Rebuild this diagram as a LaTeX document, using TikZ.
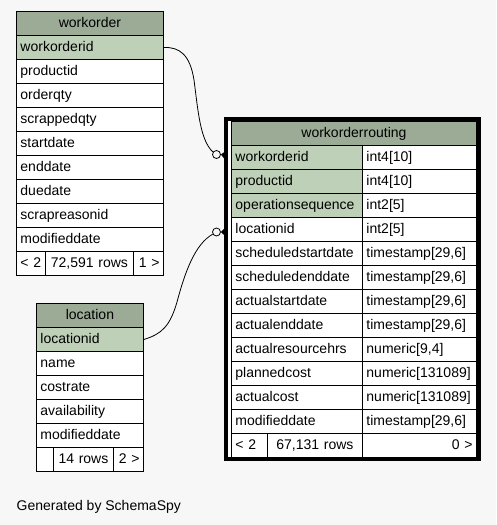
\documentclass[tikz,border=0pt]{standalone}
\usepackage{fontspec}
\setmainfont{Liberation Sans}
\usetikzlibrary{calc}
\definecolor{bg}{HTML}{F7F7F7}
\definecolor{hdr}{HTML}{9BAB96}
\definecolor{keyc}{HTML}{BED1B8}
\hyphenpenalty=10000
\exhyphenpenalty=10000
\begin{document}
\begin{tikzpicture}[x=1pt,y=-1pt,
  cell/.style={draw=black, line width=0.9pt, fill=white, anchor=north west,
    minimum height=24pt, inner xsep=4pt, inner ysep=0pt,
    text height=10.5pt, text depth=3pt,
    font=\fontsize{14}{16}\selectfont,
    align=left},
  hdrcell/.style={cell, fill=hdr, align=center},
  keycell/.style={cell, fill=keyc},
  ccell/.style={cell, align=center},
  rcell/.style={cell, align=right},
  odot/.style={circle, draw=black, line width=0.8pt, fill=bg, minimum size=8pt, inner sep=0pt},
  edge/.style={draw=black, line width=0.8pt},
  frame/.style={draw=black, line width=4pt, fill=white}
]
\fill[bg] (0,0) rectangle (496,525);
\useasboundingbox (0,0) rectangle (496,525);

% workorder
\node[hdrcell, text width=139pt] (wo) at (16,11) {workorder};
\node[keycell, text width=139pt] (wo-workorderid) at (16,35) {workorderid};
\node[cell, text width=139pt] (wo-productid) at (16,59) {productid};
\node[cell, text width=139pt] (wo-orderqty) at (16,83) {orderqty};
\node[cell, text width=139pt] (wo-scrappedqty) at (16,107) {scrappedqty};
\node[cell, text width=139pt] (wo-startdate) at (16,131) {startdate};
\node[cell, text width=139pt] (wo-enddate) at (16,155) {enddate};
\node[cell, text width=139pt] (wo-duedate) at (16,179) {duedate};
\node[cell, text width=139pt] (wo-scrapreasonid) at (16,203) {scrapreasonid};
\node[cell, text width=139pt] (wo-modifieddate) at (16,227) {modifieddate};
\node[cell, text width=21pt] (wo-f1) at (16,251) {<~2};
\node[ccell, text width=80pt] (wo-f2) at (45,251) {72,591~rows};
\node[rcell, text width=22pt] (wo-f3) at (133,251) {1~>};

% workorderrouting
\path[frame] (226,119) rectangle (479,459);
\node[hdrcell, text width=237pt] (wor) at (231,121) {workorderrouting};
\node[keycell, text width=123pt] (wor-workorderid) at (231,145) {workorderid};
\node[cell, text width=106pt] (wor-workorderid-t) at (362,145) {int4[10]};
\node[keycell, text width=123pt] (wor-productid) at (231,169) {productid};
\node[cell, text width=106pt] (wor-productid-t) at (362,169) {int4[10]};
\node[keycell, text width=123pt] (wor-operationsequence) at (231,193) {operationsequence};
\node[cell, text width=106pt] (wor-operationsequence-t) at (362,193) {int2[5]};
\node[cell, text width=123pt] (wor-locationid) at (231,217) {locationid};
\node[cell, text width=106pt] (wor-locationid-t) at (362,217) {int2[5]};
\node[cell, text width=123pt] (wor-ssd) at (231,241) {scheduledstartdate};
\node[cell, text width=106pt] (wor-ssd-t) at (362,241) {timestamp[29,6]};
\node[cell, text width=123pt] (wor-sed) at (231,265) {scheduledenddate};
\node[cell, text width=106pt] (wor-sed-t) at (362,265) {timestamp[29,6]};
\node[cell, text width=123pt] (wor-asd) at (231,289) {actualstartdate};
\node[cell, text width=106pt] (wor-asd-t) at (362,289) {timestamp[29,6]};
\node[cell, text width=123pt] (wor-aed) at (231,313) {actualenddate};
\node[cell, text width=106pt] (wor-aed-t) at (362,313) {timestamp[29,6]};
\node[cell, text width=123pt] (wor-arh) at (231,337) {actualresourcehrs};
\node[cell, text width=106pt] (wor-arh-t) at (362,337) {numeric[9,4]};
\node[cell, text width=123pt] (wor-pc) at (231,361) {plannedcost};
\node[cell, text width=106pt] (wor-pc-t) at (362,361) {numeric[131089]};
\node[cell, text width=123pt] (wor-ac) at (231,385) {actualcost};
\node[cell, text width=106pt] (wor-ac-t) at (362,385) {numeric[131089]};
\node[cell, text width=123pt] (wor-md) at (231,409) {modifieddate};
\node[cell, text width=106pt] (wor-md-t) at (362,409) {timestamp[29,6]};
\node[cell, text width=28pt] (wor-f1) at (231,433) {<~2};
\node[ccell, text width=87pt] (wor-f2) at (267,433) {67,131~rows};
\node[rcell, text width=106pt] (wor-f3) at (362,433) {0~>};

% location
\node[hdrcell, text width=99pt] (loc) at (36,303) {location};
\node[keycell, text width=99pt] (loc-locationid) at (36,327) {locationid};
\node[cell, text width=99pt] (loc-name) at (36,351) {name};
\node[cell, text width=99pt] (loc-costrate) at (36,375) {costrate};
\node[cell, text width=99pt] (loc-availability) at (36,399) {availability};
\node[cell, text width=99pt] (loc-modifieddate) at (36,423) {modifieddate};
\node[cell, text width=9pt] (loc-f1) at (36,447) {};
\node[ccell, text width=52pt] (loc-f2) at (53,447) {14~rows};
\node[rcell, text width=22pt] (loc-f3) at (113,447) {2~>};

% connectors
\node[odot] (c1) at (216.5,154.5) {};
\node[odot] (c2) at (216.5,232) {};
\draw[edge] (wo-workorderid.east) .. controls (180,47) and (190,55) .. (194,80)
  .. controls (198,110) and (200,140) .. (c1.145);
\fill (c1.east) -- ($(wor-workorderid.west)+(-6.5,-5.5)$) -- ($(wor-workorderid.west)+(-6.5,1.5)$) -- cycle;

\draw[edge] (loc-locationid.east) .. controls (162,334) and (170,326) .. (177,302)
  .. controls (185,272) and (195,244) .. (c2.210);
\fill (c2.east) -- ($(wor-locationid.west)+(-6.5,-1)$) -- ($(wor-locationid.west)+(-6.5,6)$) -- cycle;

\node[anchor=base west, inner sep=0pt, font=\fontsize{14}{16}\selectfont] (gen) at (16.5,510) {Generated by SchemaSpy};
\end{tikzpicture}
\end{document}
